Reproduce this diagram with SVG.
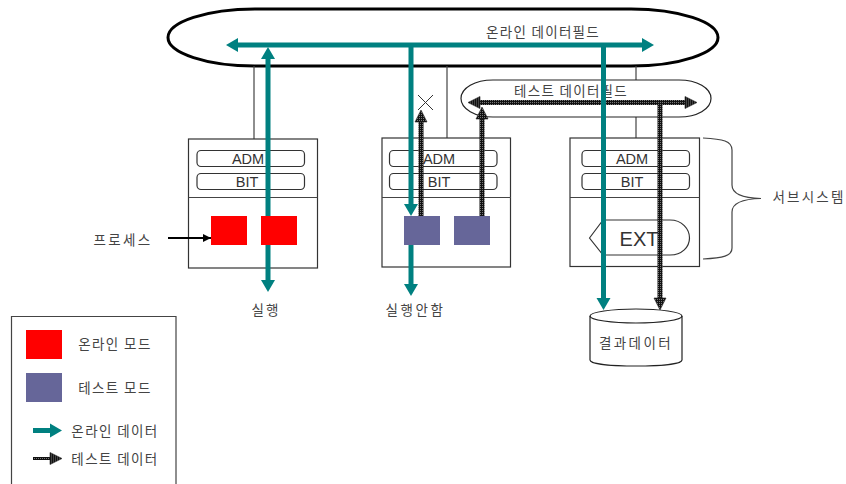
<svg xmlns="http://www.w3.org/2000/svg" width="846" height="484" viewBox="0 0 846 484">
<style>
text{font-family:"Noto Sans CJK KR","Noto Sans",sans-serif;font-size:13.5px;fill:#444;text-anchor:middle;dominant-baseline:central}
.lat{font-family:"Liberation Sans",Arial,sans-serif;font-size:14.500px;fill:#333}
.box{fill:#fff;stroke:#333;stroke-width:1.2}
.thin{fill:none;stroke:#444;stroke-width:1.2}
.rr{fill:#fff;stroke:#333;stroke-width:1.2}
.on{fill:none;stroke:#008080;stroke-width:5}
.tst{fill:none;stroke:url(#chk);stroke-width:5}
.red{fill:#f00}
.pur{fill:#666699}
</style>
<defs>
<pattern id="chk" width="2" height="2" patternUnits="userSpaceOnUse"><rect width="2" height="2" fill="#111"/><rect width="1" height="1" fill="#777"/></pattern>
<marker id="ah" markerUnits="userSpaceOnUse" markerWidth="16" markerHeight="16" refX="5" refY="8" orient="auto-start-reverse"><path d="M1,1V15L13,8Z" fill="#008080"/></marker>
<marker id="th" markerUnits="userSpaceOnUse" markerWidth="16" markerHeight="16" refX="5" refY="8" orient="auto-start-reverse"><path d="M1,2V14L13,8Z" fill="url(#chk)" stroke="#222" stroke-width=".6"/></marker>
<marker id="bh" markerUnits="userSpaceOnUse" markerWidth="10" markerHeight="10" refX="9" refY="5" orient="auto"><path d="M1,1V9L9,5Z" fill="#000"/></marker>
</defs>
<g id="field-online">
<path d="M255,9H631C679,9 718,22 718,37.500C718,53 679,66 631,66H255C207,66 168,53 168,37.500C168,22 207,9 255,9Z" fill="#fff" stroke="#000" stroke-width="3"/>
<text x="543" y="31" letter-spacing="1.300">온라인 데이터필드</text>
</g>
<g id="stubs">
<path class="thin" d="M254,66V139M447,66V138M636,66V138"/>
</g>
<g id="field-test">
<path d="M493,80H679C697,80 711,88 711,98.500C711,109 697,117 679,117H493C475,117 461,109 461,98.500C461,88 475,80 493,80Z" fill="#fff" stroke="#222" stroke-width="1.2"/>
<text x="571" y="90" letter-spacing="1.300">테스트 데이터필드</text>
</g>
<g id="subsystem-1">
<rect class="box" x="188.500" y="139" width="129" height="129"/>
<path class="thin" d="M188.500,197.500H317.500"/>
<rect class="rr" x="197" y="150.500" width="107.500" height="16" rx="4"/>
<rect class="rr" x="197" y="173.500" width="107.500" height="16" rx="4"/>
<text class="lat" x="248" y="159">ADM</text><text class="lat" x="247" y="182">BIT</text>
</g>
<g id="subsystem-2">
<rect class="box" x="382" y="138" width="128.500" height="129"/>
<path class="thin" d="M382,197.500H511"/>
<rect class="rr" x="389.500" y="150.500" width="107.500" height="16" rx="4"/>
<rect class="rr" x="389.500" y="173.500" width="107.500" height="16" rx="4"/>
<text class="lat" x="439" y="159">ADM</text><text class="lat" x="439" y="182">BIT</text>
</g>
<g id="subsystem-3">
<rect class="box" x="570" y="138" width="129.500" height="128.500"/>
<path class="thin" d="M570,197.500H699.500"/>
<rect class="rr" x="582" y="150.500" width="107.500" height="16" rx="4"/>
<rect class="rr" x="582" y="173.500" width="107.500" height="16" rx="4"/>
<text class="lat" x="632" y="159">ADM</text><text class="lat" x="632" y="182">BIT</text>
</g>
<g id="ext">
<path d="M589.500,238L603,220H670C682,220 689.500,229 689.500,238C689.500,247 682,255 670,255H603Z" fill="#fff" stroke="#333" stroke-width="1.2"/>
<text class="lat" x="639" y="239" style="font-size:20px">EXT</text>
</g>
<g id="connectors">
<path d="M418,95L433,110M433,95L418,110" fill="none" stroke="#333" stroke-width="1"/>
<path class="tst" d="M421,216V118" marker-end="url(#th)"/>
<path class="tst" d="M482,216V115" marker-end="url(#th)"/>
<path class="tst" d="M476,102.500H689" marker-start="url(#th)" marker-end="url(#th)"/>
<path class="tst" d="M660,102.500V302" marker-end="url(#th)"/>
<path class="on" d="M234,45H646" marker-start="url(#ah)" marker-end="url(#ah)"/>
<path class="on" d="M268,284V55" marker-start="url(#ah)" marker-end="url(#ah)"/>
<path class="on" d="M411,45V208" marker-end="url(#ah)"/>
<path class="on" d="M411,245V288" marker-end="url(#ah)"/>
<path class="on" d="M603.500,45V302" marker-end="url(#ah)"/>
<path d="M168,238H211" fill="none" stroke="#000" stroke-width="2" marker-end="url(#bh)"/>
</g>
<g id="brace"><path class="thin" d="M703,138C723,139 732,141 732,150V185C732,194 742,198 761,198.500C742,199 732,203 732,212V248C732,256 723,258 703,259"/></g>
<g id="process-1"><rect class="red" x="211" y="216" width="36" height="29"/></g>
<g id="process-2"><rect class="red" x="261" y="216" width="36" height="29"/></g>
<g id="process-3"><rect class="pur" x="404" y="216" width="36" height="29"/></g>
<g id="process-4"><rect class="pur" x="454" y="216" width="36" height="29"/></g>
<g id="db">
<path d="M590,316C590,312 612,309 636,309C660,309 682,312 682,316V360C682,364 660,366 636,366C612,366 590,364 590,360Z" fill="#fff" stroke="#222" stroke-width="1.2"/>
<path d="M590,316C590,320 612,323 636,323C660,323 682,320 682,316" fill="none" stroke="#222" stroke-width="1.2"/>
<text x="636" y="341.500" letter-spacing="2.400">결과데이터</text>
</g>
<g id="labels">
<text x="123" y="238.500" letter-spacing="2.300">프로세스</text>
<text x="266" y="309" letter-spacing="2">실행</text>
<text x="415.500" y="309" letter-spacing="2.600">실행안함</text>
<text x="809" y="196" letter-spacing="2.200">서브시스템</text>
</g>
<g id="legend">
<path d="M11.500,484V316.500H176V484" fill="none" stroke="#444" stroke-width="1.2"/>
<rect class="red" x="26" y="330" width="36" height="29"/>
<rect class="pur" x="26" y="373" width="36" height="29"/>
<text x="115" y="343" letter-spacing="1.400">온라인 모드</text>
<text x="115" y="386.500" letter-spacing="1.400">테스트 모드</text>
<path class="on" d="M33,430.500H54" marker-end="url(#ah)"/>
<path class="tst" style="stroke-width:3" d="M33,458.500H54" marker-end="url(#th)"/>
<text x="115" y="430" letter-spacing="1.400">온라인 데이터</text>
<text x="115" y="458" letter-spacing="1.400">테스트 데이터</text>
</g>
</svg>
